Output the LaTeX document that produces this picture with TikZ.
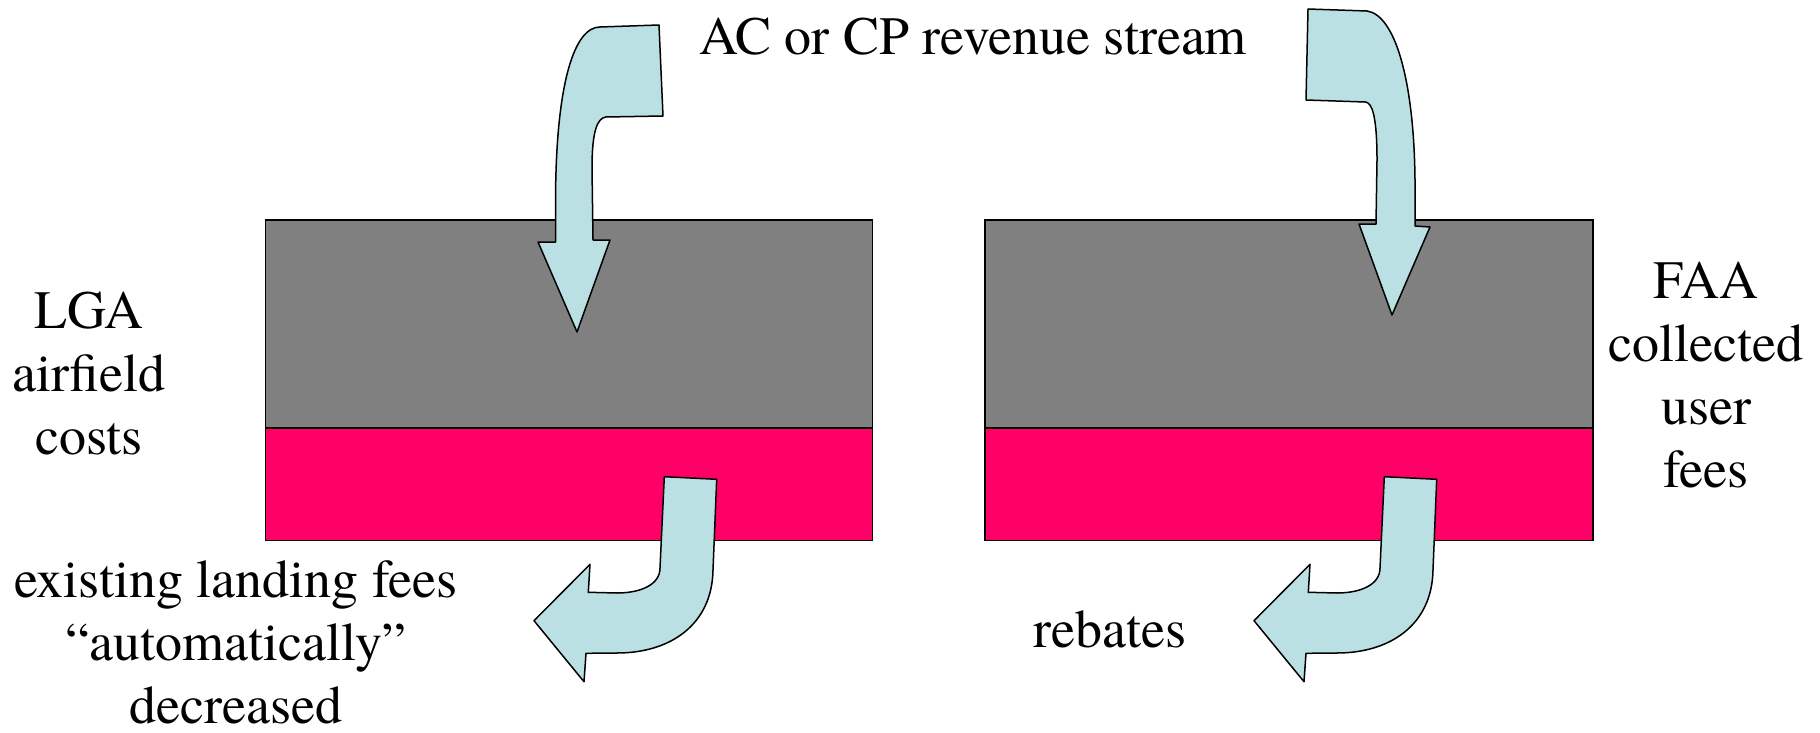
\documentclass[tikz,border=0pt]{standalone}
\usepackage{fontspec}
\setmainfont{TeX Gyre Termes}
\definecolor{arrowfill}{RGB}{187,224,227}
\definecolor{costgray}{RGB}{128,128,128}
\definecolor{feered}{RGB}{255,0,102}
\begin{document}
\begin{tikzpicture}[x=1pt,y=-1pt,
  lbl/.style={inner sep=0pt, align=center, anchor=base, font=\fontsize{54}{63}\selectfont},
  graybox/.style={draw=black, line width=1.3pt, fill=costgray, inner sep=0pt, anchor=north west},
  redbox/.style={draw=black, line width=1.3pt, fill=feered, inner sep=0pt, anchor=north west},
  bentarrow/.style={draw=black, line width=1.5pt, fill=arrowfill, line join=round}]
\useasboundingbox (0,0) rectangle (1820,733);
% boxes
\node[graybox, minimum width=607pt, minimum height=208pt] (lgray) at (264.6,219.4) {};
\node[redbox, minimum width=607pt, minimum height=112.5pt] (lred) at (264.6,427.2) {};
\node[graybox, minimum width=608pt, minimum height=208pt] (rgray) at (984.3,219.4) {};
\node[redbox, minimum width=608pt, minimum height=112.5pt] (rred) at (984.3,427.2) {};
% top-left arrow
\draw[bentarrow] (659,25) -- (663,116) -- (606,117)
  .. controls (597,118) and (592,132) .. (592,168) -- (593,240) -- (610,240)
  -- (577,332) -- (538,242) -- (555.5,242) -- (555.5,200)
  .. controls (556,80) and (575,27) .. (600,27) -- cycle;
% top-right arrow
\draw[bentarrow] (1308,9) -- (1367,11)
  .. controls (1395,15) and (1414,80) .. (1415,180) -- (1415,226) -- (1430,227)
  -- (1392,315) -- (1359,224) -- (1376,224) -- (1377,160)
  .. controls (1377,116) and (1372,102) .. (1365,102) -- (1306,100) -- cycle;
% bottom arrows
\foreach \dx in {0,720}{
\begin{scope}[xshift=\dx pt]
\draw[bentarrow] (664.3,476.7) -- (716.7,479.3) -- (713,570)
  .. controls (712,625) and (670,653) .. (617,653) -- (586,653.3)
  -- (584,681.7) -- (534,620.7) -- (590,564.3) -- (588.3,592.3) -- (617,593)
  .. controls (640,593) and (660,585) .. (660,568) -- cycle;
\end{scope}}
% labels (base anchor = baseline of the last line)
\node[lbl] (stream) at (973,55) {AC or CP revenue stream};
\node[lbl] (lga) at (89,454) {LGA\\airfield\\costs};
\node[lbl] (faa) at (1706,487) {FAA\\collected\\user\\fees};
\node[lbl] (exist) at (236,723) {existing landing fees\\“automatically”\\decreased};
\node[lbl] (rebates) at (1110,647) {rebates};
\end{tikzpicture}
\end{document}
